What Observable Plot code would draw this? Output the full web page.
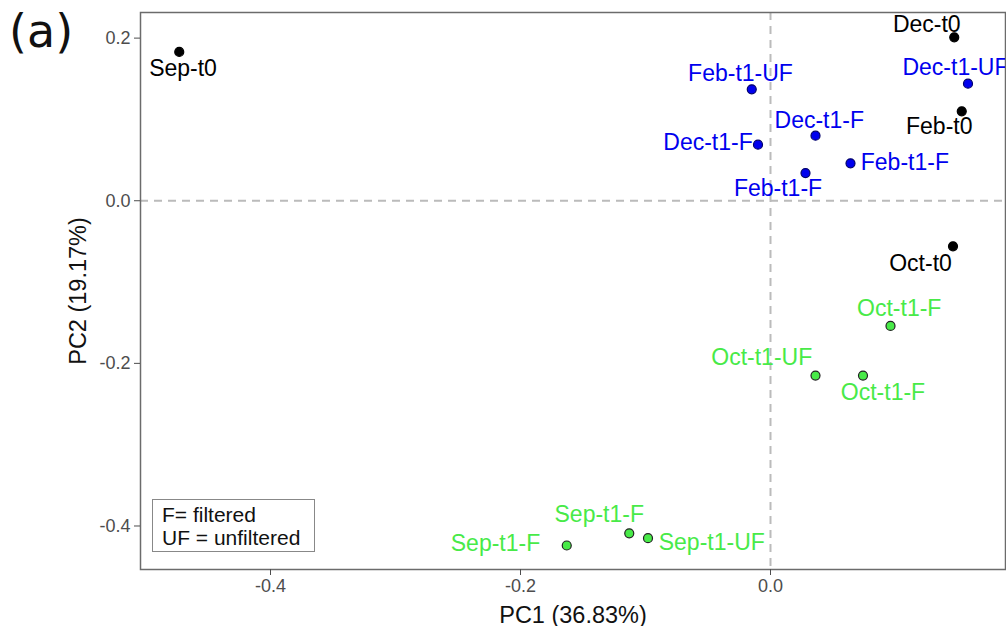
<!DOCTYPE html>
<html>
<head>
<meta charset="utf-8">
<script src="https://cdn.jsdelivr.net/npm/d3@7"></script>
<script src="https://cdn.jsdelivr.net/npm/@observablehq/plot@0.6"></script>
<style>
  body { margin: 0; background: #fff; font-family: "Liberation Sans", Arial, sans-serif; }
  #wrap { position: relative; width: 1006px; height: 626px; }
  #panel { position: absolute; left: 9px; top: 4px; font-size: 46px; color: #111; font-family: "DejaVu Sans", sans-serif; }
  #legend { position: absolute; left: 152px; top: 499px; width: 163px; height: 53px; box-sizing: border-box;
            border: 1px solid #888; background: #fff; font-size: 21px; line-height: 23px; padding: 3px 0 0 9px; color: #111; }
</style>
</head>
<body>
<div id="wrap">
  <div id="chart"></div>
  <div id="panel">(a)</div>
  <div id="legend">F= filtered<br>UF = unfiltered</div>
</div>
<script>
const samples = ["Sep-t0","Dec-t0","Dec-t1-UF","Feb-t0","Feb-t1-UF","Dec-t1-F","Dec-t1-F","Feb-t1-F","Feb-t1-F",
                 "Oct-t0","Oct-t1-F","Oct-t1-UF","Oct-t1-F","Sep-t1-F","Sep-t1-F","Sep-t1-UF"];
const pc1 = [-0.473, 0.147, 0.158, 0.153, -0.015, 0.036, -0.010, 0.064, 0.028,
             0.146, 0.096, 0.036, 0.074, -0.163, -0.113, -0.098];
const pc2 = [0.183, 0.201, 0.144, 0.110, 0.137, 0.080, 0.069, 0.046, 0.034,
             -0.056, -0.154, -0.215, -0.215, -0.424, -0.409, -0.415];
const group = ["t0","t0","DecFeb","t0","DecFeb","DecFeb","DecFeb","DecFeb","DecFeb",
               "t0","SepOct","SepOct","SepOct","SepOct","SepOct","SepOct"];
// repelled label anchor positions (data units)
const labelX = [-0.470, 0.125, 0.148, 0.135, -0.024, 0.039, -0.050, 0.1075, 0.006,
                0.120, 0.103, -0.007, 0.090, -0.220, -0.137, -0.047];
const labelY = [0.162, 0.217, 0.164, 0.0915, 0.156, 0.0986, 0.072, 0.0465, 0.0144,
                -0.077, -0.133, -0.193, -0.236, -0.422, -0.386, -0.420];
const xTicks = [-0.4, -0.2, 0.0];
const yTicks = [0.2, 0.0, -0.2, -0.4];
const groupNames = ["t0", "DecFeb", "SepOct"];
const groupColors = ["#000000", "#0000ee", "#48ea48"];

const data = samples.map((s, i) => ({name: s, x: pc1[i], y: pc2[i], g: group[i], lx: labelX[i], ly: labelY[i]}));
const fmt = d => d.toFixed(1);

const chart = Plot.plot({
  width: 1006,
  height: 626,
  marginLeft: 140,
  marginRight: 1,
  marginTop: 12,
  marginBottom: 57,
  style: {fontFamily: "Liberation Sans, Arial, sans-serif", background: "#fff"},
  x: {domain: [-0.504, 0.188], ticks: xTicks},
  y: {domain: [-0.4535, 0.2315], ticks: yTicks},
  color: {domain: groupNames, range: groupColors},
  marks: [
    Plot.ruleX([0], {stroke: "#bbbbbb", strokeWidth: 2, strokeDasharray: "8,6"}),
    Plot.ruleY([0], {stroke: "#bbbbbb", strokeWidth: 2, strokeDasharray: "8,6"}),
    Plot.frame({stroke: "#6b6b6b", strokeWidth: 1.5}),
    Plot.axisX({ticks: xTicks, tickFormat: fmt, tickSize: 6, tickPadding: 4, fontSize: 18, color: "#4d4d4d",
                label: null}),
    Plot.axisY({ticks: yTicks, tickFormat: fmt, tickSize: 6, tickPadding: 4, fontSize: 18, color: "#4d4d4d",
                label: null}),
    Plot.axisX({ticks: [], tickSize: 0, label: "PC1 (36.83%)", labelAnchor: "center", labelOffset: 53,
                fontSize: 23.5, color: "#111", labelArrow: "none"}),
    Plot.axisY({ticks: [], tickSize: 0, label: "PC2 (19.17%)", labelAnchor: "center", labelOffset: 71,
                fontSize: 23.5, color: "#111", labelArrow: "none"}),
    Plot.dot(data, {x: "x", y: "y", r: 4.5, fill: d => d.g, stroke: d => d.g === "SepOct" ? "#222" : d.g === "DecFeb" ? "#00006a" : "#000", strokeWidth: 1.2}),
    Plot.text(data, {x: "lx", y: "ly", text: "name", fill: d => d.g, fontSize: 23, textAnchor: "middle",
                     lineAnchor: "middle", clip: true})
  ]
});
document.getElementById("chart").appendChild(chart);
</script>
</body>
</html>
